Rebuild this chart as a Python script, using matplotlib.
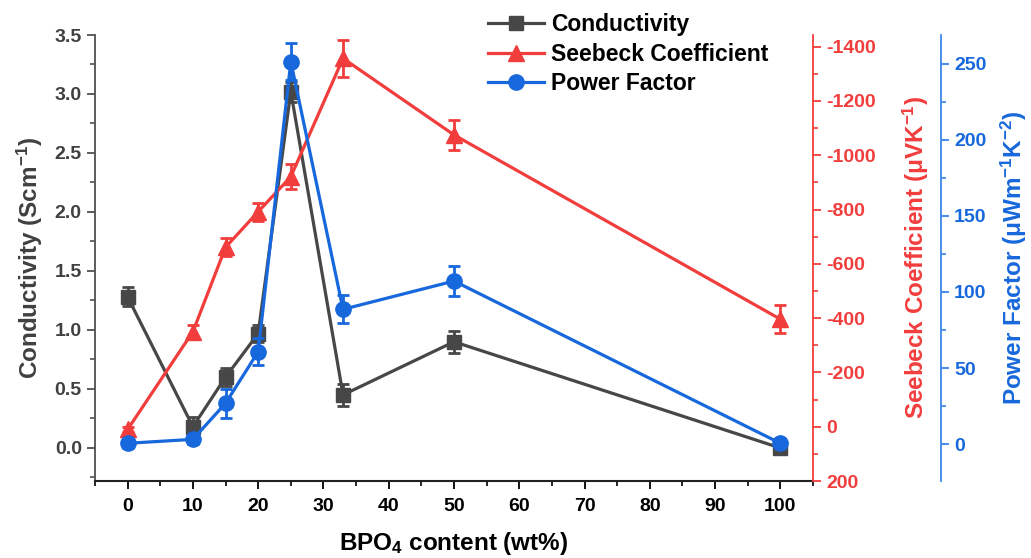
import matplotlib
matplotlib.use("Agg")
import matplotlib.pyplot as plt
from matplotlib.ticker import MultipleLocator, FormatStrFormatter, FuncFormatter

plt.rcParams['font.family'] = ['Liberation Sans', 'DejaVu Sans']
plt.rcParams['font.weight'] = 'bold'
plt.rcParams['axes.labelweight'] = 'bold'
plt.rcParams['mathtext.fontset'] = 'custom'
plt.rcParams['mathtext.rm'] = 'Liberation Sans:bold'
plt.rcParams['mathtext.bf'] = 'Liberation Sans:bold'
plt.rcParams['mathtext.it'] = 'Liberation Sans:bold'
plt.rcParams['mathtext.default'] = 'rm'

# ---- data ----
bpo4 = [0, 10, 15, 20, 25, 33, 50, 100]
conductivity = [1.28, 0.18, 0.60, 0.97, 3.02, 0.45, 0.90, 0.00]
conductivity_err = [0.08, 0.08, 0.075, 0.07, 0.085, 0.095, 0.095, 0.03]
seebeck = [10, -350, -661, -792, -921, -1357, -1075, -396]
seebeck_err = [10, 25, 33, 33, 46, 68, 54, 51]
power_factor = [0.5, 3.1, 26.8, 60.7, 251.5, 88.6, 107.2, 0.5]
power_factor_err = [3, 3, 9.4, 9, 12, 9.3, 9.7, 2]
series_names = ['Conductivity', 'Seebeck Coefficient', 'Power Factor']

GREY = '#474747'
RED = '#F23D3D'
BLUE = '#1768DC'
BLUE_AX = '#3A86E8'

fig = plt.figure(figsize=(10.31, 5.58), dpi=100)
W, H = 1031, 558
left, right, top, bottom = 95, 813, 35, 481
ax = fig.add_axes([left / W, 1 - bottom / H, (right - left) / W, (bottom - top) / H])
ax2 = ax.twinx()
ax3 = ax.twinx()

lw = 2.3
eb_kw = dict(elinewidth=2, capthick=2, capsize=4)

l1 = ax.errorbar(bpo4, conductivity, yerr=conductivity_err, color=GREY, marker='s',
                 markersize=10, lw=lw, ecolor=GREY, **eb_kw)
l2 = ax2.errorbar(bpo4, seebeck, yerr=seebeck_err, color=RED, marker='^',
                  markersize=12, lw=lw, ecolor=RED, **eb_kw)
l3 = ax3.errorbar(bpo4, power_factor, yerr=power_factor_err, color=BLUE, marker='o',
                  markersize=11, lw=lw, ecolor=BLUE, **eb_kw)

# ---- axes limits ----
ax.set_xlim(-5, 105)
ax.set_ylim(-0.28, 3.5)
ax2.set_ylim(200, -1443)
ax3.set_ylim(-24.3, 269)

ax.xaxis.set_major_locator(MultipleLocator(10))
ax.xaxis.set_minor_locator(MultipleLocator(5))
ax.yaxis.set_major_locator(MultipleLocator(0.5))
ax.yaxis.set_minor_locator(MultipleLocator(0.25))
ax2.yaxis.set_major_locator(MultipleLocator(200))
ax2.yaxis.set_minor_locator(MultipleLocator(100))
ax3.yaxis.set_major_locator(MultipleLocator(50))
ax3.yaxis.set_minor_locator(MultipleLocator(25))
ax.yaxis.set_major_formatter(FormatStrFormatter('%.1f'))
ax2.yaxis.set_major_formatter(FuncFormatter(lambda v, p: '%d' % v))

# ---- spines ----
for a in (ax, ax2, ax3):
    a.spines['top'].set_visible(False)
ax.spines['right'].set_visible(False)
for a in (ax2, ax3):
    a.spines['left'].set_visible(False)
    a.spines['bottom'].set_visible(False)
ax.spines['left'].set_color('#505050')
ax.spines['bottom'].set_color('#222222')
ax.spines['left'].set_linewidth(1.3)
ax.spines['bottom'].set_linewidth(1.5)
ax2.spines['right'].set_color(RED)
ax2.spines['right'].set_linewidth(1.3)
ax3.spines['right'].set_position(('axes', 1 + 128 / (right - left)))
ax3.spines['right'].set_color(BLUE_AX)
ax3.spines['right'].set_linewidth(1.3)

fs_tick = 14
ax.tick_params(axis='x', which='major', direction='out', length=6, width=1.3,
               colors='black', labelsize=fs_tick, pad=6)
ax.tick_params(axis='x', which='minor', direction='out', length=3.5, width=1.2, colors='black')
ax.tick_params(axis='y', which='major', direction='out', length=6, width=1.3,
               colors='#505050', labelsize=fs_tick, labelcolor='#404040')
ax.tick_params(axis='y', which='minor', direction='out', length=3.5, width=1.2, colors='#505050')
ax2.tick_params(axis='y', which='major', direction='out', length=6, width=1.3,
                colors=RED, labelsize=fs_tick)
ax2.tick_params(axis='y', which='minor', direction='out', length=3.5, width=1.2, colors=RED)
ax3.tick_params(axis='y', which='major', direction='out', length=6, width=1.3,
                colors=BLUE_AX, labelsize=fs_tick, labelcolor=BLUE)
ax3.tick_params(axis='y', which='minor', direction='out', length=3.5, width=1.2, colors=BLUE_AX)

fs_lab = 17.5
ax.set_xlabel('BPO$_4$ content (wt%)', fontsize=fs_lab, color='black', labelpad=11)
ax.set_ylabel('Conductivity (Scm$^{-1}$)', fontsize=fs_lab, color='#404040', labelpad=7)
ax2.set_ylabel('Seebeck Coefficient (μVK$^{-1}$)', fontsize=fs_lab, color=RED, labelpad=18)
ax3.set_ylabel('Power Factor (μWm$^{-1}$K$^{-2}$)', fontsize=fs_lab, color=BLUE, labelpad=9)

leg = fig.legend(handles=[l1[0], l2[0], l3[0]], labels=series_names, loc='upper left',
                 bbox_to_anchor=(479 / W, 1 - 4 / H), frameon=False,
                 fontsize=16.5, handlelength=2.45, handletextpad=0.3,
                 labelspacing=0.28, borderaxespad=0)
for t in leg.get_texts():
    t.set_color('black')

fig.savefig('out.png', dpi=100)
